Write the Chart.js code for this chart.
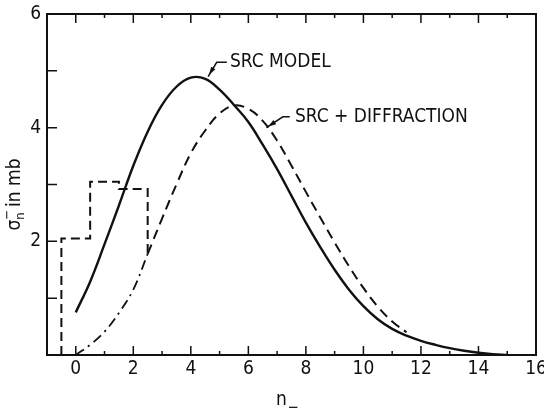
<!DOCTYPE html>
<html>
<head>
<meta charset="utf-8">
<script src="https://cdn.jsdelivr.net/npm/chart.js@4.4.1/dist/chart.umd.min.js"></script>
<style>
  html, body { margin: 0; padding: 0; background: #fff; }
  #wrap { width: 544px; height: 410px; }
</style>
</head>
<body>
<div id="wrap"><canvas id="c" width="544" height="410"></canvas></div>
<script>
// SRC model prediction (solid curve)
const nSrc = [0, 0.5, 1, 1.5, 2, 2.5, 3, 3.5, 4, 4.5, 5, 5.5, 6, 6.5, 7, 7.5, 8, 8.5, 9, 9.5, 10, 10.5, 11, 11.5, 12, 12.5, 13, 13.5, 14, 14.5, 15];
const sigmaSrc = [0.75, 1.29, 1.95, 2.63, 3.33, 3.93, 4.40, 4.72, 4.88, 4.86, 4.67, 4.40, 4.10, 3.70, 3.27, 2.80, 2.33, 1.90, 1.50, 1.15, 0.86, 0.63, 0.46, 0.34, 0.25, 0.18, 0.12, 0.075, 0.04, 0.015, 0];

// SRC + diffraction: low-n part (dash-dot) and main part (dashed)
const nDiffLow = [0, 0.5, 1, 1.5, 2, 2.5];
const sigmaDiffLow = [0, 0.18, 0.41, 0.74, 1.15, 1.78];
const nDiff = [2.5, 3, 3.5, 4, 4.5, 5, 5.5, 6, 6.5, 7, 7.5, 8, 8.5, 9, 9.5, 10, 10.5, 11, 11.5];
const sigmaDiff = [1.78, 2.40, 3.00, 3.55, 3.95, 4.25, 4.39, 4.33, 4.12, 3.77, 3.33, 2.87, 2.42, 1.98, 1.56, 1.18, 0.85, 0.59, 0.40];

// Measured histogram (dashed steps)
const nHist = [-0.5, -0.5, 0.5, 0.5, 1.5, 1.5, 2.5, 2.5];
const sigmaHist = [0, 2.05, 2.05, 3.05, 3.05, 2.92, 2.92, 1.78];

// Tick labels
const xTickLabels = [0, 2, 4, 6, 8, 10, 12, 14, 16];
const yTickLabels = [2, 4, 6];

// Curve captions with their leader lines (data units)
const captions = [
  { text: 'SRC MODEL', tip: [4.6, 4.9], elbow: [4.9, 5.15], end: [5.25, 5.15], at: [5.36, 5.15] },
  { text: 'SRC + DIFFRACTION', tip: [6.63, 4.0], elbow: [7.2, 4.19], end: [7.44, 4.19], at: [7.62, 4.19] }
];

const pts = (xs, ys) => xs.map((x, i) => ({ x: x, y: ys[i] }));
const INK = '#111';
const FONT = '"DejaVu Sans Condensed", "Liberation Sans Narrow", "DejaVu Sans", sans-serif';
const TICK_FONT = '"Liberation Sans Narrow", "DejaVu Sans Condensed", sans-serif';

const decor = {
  id: 'decor',
  afterDraw(chart) {
    const { ctx, chartArea: a, scales: { x, y } } = chart;
    ctx.save();
    ctx.strokeStyle = INK;
    ctx.fillStyle = INK;
    ctx.lineCap = 'butt';
    // frame
    ctx.lineWidth = 2;
    ctx.strokeRect(a.left, a.top, a.right - a.left, a.bottom - a.top);
    // inward ticks
    ctx.lineWidth = 1.5;
    ctx.beginPath();
    for (let v = 0; v <= 15; v++) {
      const px = x.getPixelForValue(v);
      const len = v % 2 === 0 ? 9 : 4;
      ctx.moveTo(px, a.bottom); ctx.lineTo(px, a.bottom - len);
      ctx.moveTo(px, a.top); ctx.lineTo(px, a.top + len);
    }
    for (let v = 1; v <= 5; v++) {
      const py = y.getPixelForValue(v);
      ctx.moveTo(a.left, py); ctx.lineTo(a.left + 10, py);
    }
    ctx.stroke();

    // captions
    ctx.lineWidth = 1.5;
    ctx.font = '19px ' + FONT;
    ctx.textBaseline = 'middle';
    ctx.textAlign = 'left';
    captions.forEach(c => {
      const tx = x.getPixelForValue(c.tip[0]), ty = y.getPixelForValue(c.tip[1]);
      const ex = x.getPixelForValue(c.elbow[0]), ey = y.getPixelForValue(c.elbow[1]);
      const fx = x.getPixelForValue(c.end[0]), fy = y.getPixelForValue(c.end[1]);
      ctx.beginPath();
      ctx.moveTo(tx, ty); ctx.lineTo(ex, ey); ctx.lineTo(fx, fy);
      ctx.stroke();
      // arrow head at the curve end
      const ang = Math.atan2(ty - ey, tx - ex);
      const hx = tx - Math.cos(ang) * 2, hy = ty - Math.sin(ang) * 2;
      ctx.beginPath();
      ctx.moveTo(hx, hy);
      ctx.lineTo(hx - Math.cos(ang) * 8 + Math.sin(ang) * 2.5, hy - Math.sin(ang) * 8 - Math.cos(ang) * 2.5);
      ctx.lineTo(hx - Math.cos(ang) * 8 - Math.sin(ang) * 2.5, hy - Math.sin(ang) * 8 + Math.cos(ang) * 2.5);
      ctx.closePath();
      ctx.fill();
      ctx.fillText(c.text, x.getPixelForValue(c.at[0]), y.getPixelForValue(c.at[1]));
    });

    // x axis title: n with a low bar
    const midX = (a.left + a.right) / 2;
    ctx.font = '19px ' + FONT;
    ctx.textAlign = 'center';
    ctx.textBaseline = 'alphabetic';
    ctx.fillText('n', midX - 10, 405);
    ctx.font = '15px ' + FONT;
    ctx.textAlign = 'left';
    ctx.fillText('\u2212', midX - 4, 412);

    // y axis title: sigma with stacked bar and subscript n, "in mb"
    ctx.translate(14, (a.top + a.bottom) / 2 + 10);
    ctx.rotate(-Math.PI / 2);
    ctx.textAlign = 'left';
    ctx.textBaseline = 'alphabetic';
    const big = '19px ' + FONT, small = '13px ' + FONT;
    ctx.font = big;
    const wSig = ctx.measureText('\u03c3').width;
    const wRest = ctx.measureText(' in mb').width;
    ctx.font = small;
    const wSub = ctx.measureText('n').width;
    const total = wSig + wSub + wRest;
    let cx = -total / 2;
    const base = 6;
    ctx.font = big;
    ctx.fillText('\u03c3', cx, base);
    cx += wSig;
    ctx.font = small;
    ctx.fillText('\u2212', cx, base - 9);
    ctx.fillText('n', cx, base + 4);
    cx += wSub;
    ctx.font = big;
    ctx.fillText(' in mb', cx, base);
    ctx.restore();
  }
};

new Chart(document.getElementById('c'), {
  type: 'line',
  data: {
    datasets: [
      {
        label: 'SRC MODEL',
        data: pts(nSrc, sigmaSrc),
        borderColor: INK, borderWidth: 2.4,
        tension: 0.4
      },
      {
        label: 'SRC + DIFFRACTION',
        data: pts(nDiff, sigmaDiff),
        borderColor: INK, borderWidth: 2,
        borderDash: [10, 6],
        tension: 0.4
      },
      {
        label: 'SRC + DIFFRACTION (low n)',
        data: pts(nDiffLow, sigmaDiffLow),
        borderColor: INK, borderWidth: 1.8,
        borderDash: [10, 5, 2, 5],
        tension: 0.4
      },
      {
        label: 'data',
        data: pts(nHist, sigmaHist),
        borderColor: INK, borderWidth: 2,
        borderDash: [9, 5],
        tension: 0
      }
    ]
  },
  options: {
    responsive: false,
    animation: false,
    events: [],
    layout: { padding: { top: 14, right: 8, left: 0, bottom: 0 } },
    elements: { point: { radius: 0 }, line: { fill: false } },
    plugins: { legend: { display: false }, tooltip: { enabled: false } },
    scales: {
      x: {
        type: 'linear', min: -1, max: 16,
        grid: { display: false, drawTicks: false },
        border: { display: false },
        afterFit: s => { s.height = 55; s.paddingLeft = 0; s.paddingRight = 0; },
        ticks: {
          stepSize: 1, autoSkip: false, maxRotation: 0, padding: 3,
          color: INK, font: { family: TICK_FONT, size: 19 },
          callback: v => xTickLabels.includes(v) ? String(v) : ''
        }
      },
      y: {
        type: 'linear', min: 0, max: 6,
        grid: { display: false, drawTicks: false },
        border: { display: false },
        afterFit: s => { s.width = 47; s.paddingTop = 0; s.paddingBottom = 0; },
        ticks: {
          stepSize: 1, autoSkip: false, padding: 6,
          color: INK, font: { family: TICK_FONT, size: 19 },
          callback: v => yTickLabels.includes(v) ? String(v) : ''
        }
      }
    }
  },
  plugins: [decor]
});
</script>
</body>
</html>
